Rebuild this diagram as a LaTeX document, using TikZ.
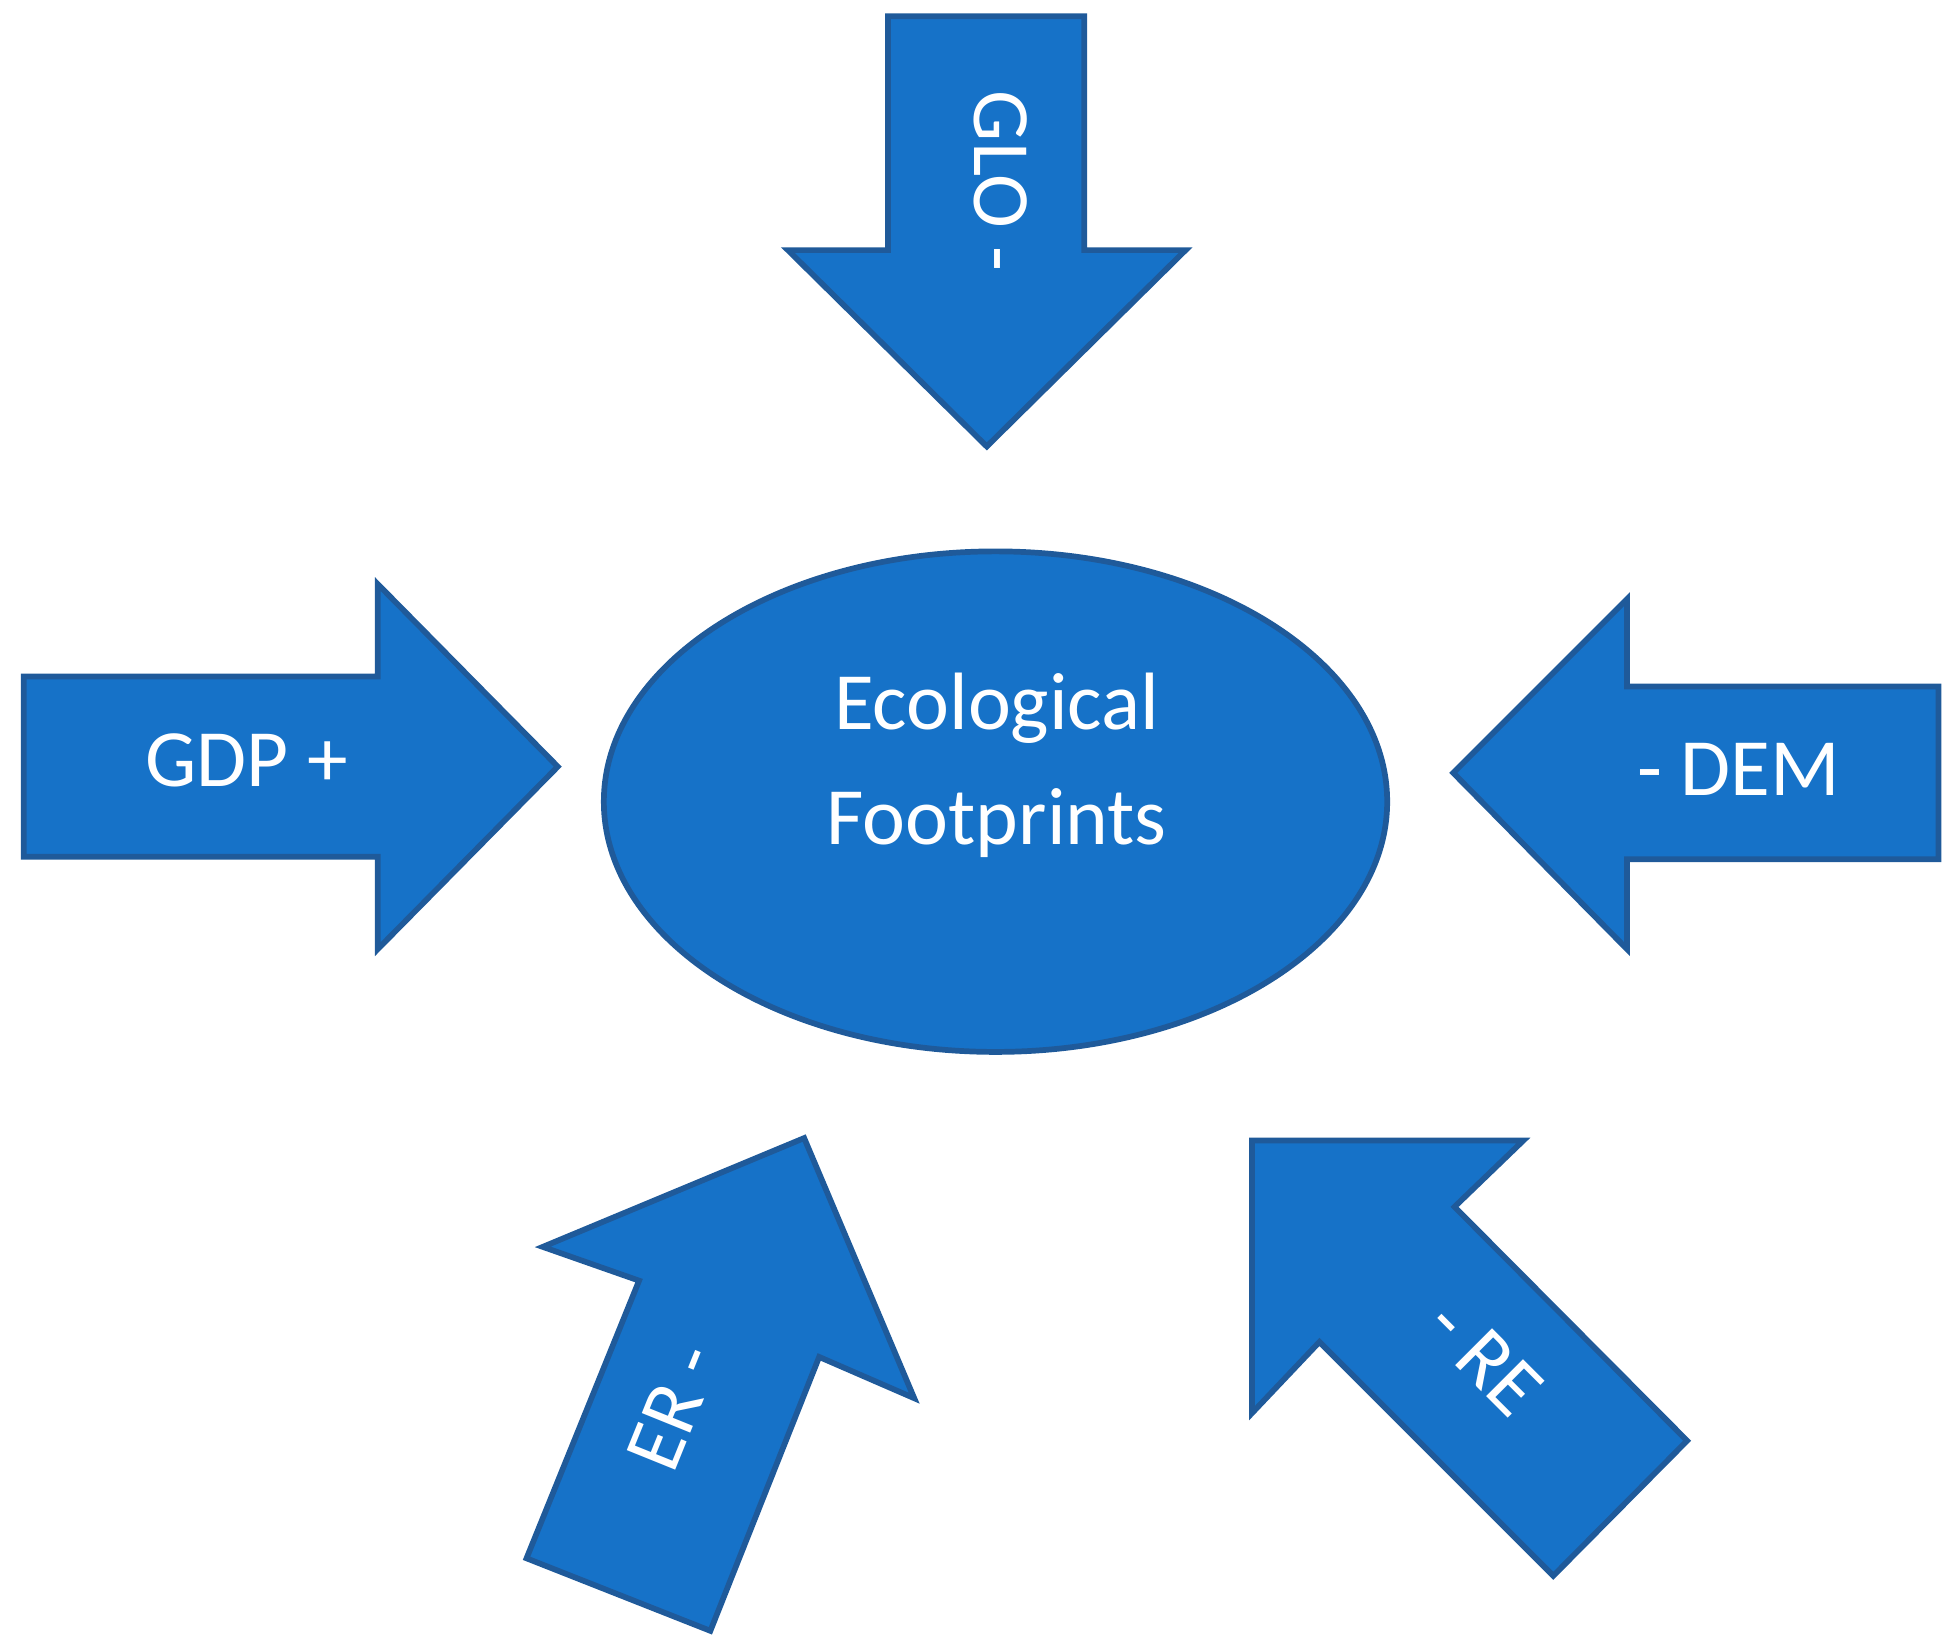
\documentclass[tikz,border=0pt]{standalone}
\usepackage{fontspec}
\setmainfont{Carlito}
\usetikzlibrary{shapes.geometric}
\definecolor{fillb}{HTML}{1672C8}
\definecolor{lineb}{HTML}{1F5A9A}
\begin{document}
\begin{tikzpicture}[x=0.01cm,y=-0.01cm,
  shp/.style={fill=fillb,draw=lineb,line width=1.3pt,line join=miter},
  lbl/.style={text=white,font=\fontsize{18.5}{22}\selectfont}]
\useasboundingbox (0,0) rectangle (1560,1310);
% GLO
\draw[shp] (710,13) -- (867,13) -- (867,200) -- (948,200) -- (789,357) -- (630,200) -- (710,200) -- cycle;
\node[lbl,rotate=-90] (glo) at (800,145) {GLO -};
% GDP
\draw[shp] (19,541) -- (302,541) -- (302,467) -- (446,613) -- (302,759) -- (302,685) -- (19,685) -- cycle;
\node[lbl] (gdp) at (197,608) {GDP +};
% DEM
\draw[shp] (1550,549) -- (1301,549) -- (1301,479) -- (1162,618) -- (1301,759) -- (1301,687) -- (1550,687) -- cycle;
\node[lbl] (dem) at (1390,615) {- DEM};
% Ellipse
\node[shp,ellipse,minimum width=6.26cm,minimum height=4.0cm,inner sep=0pt] (eco) at (796,641) {};
\node[lbl,align=center,font=\fontsize{18.5}{26}\selectfont] (ecot) at (797,612) {Ecological\\Footprints};
% ER
\draw[shp] (643,910) -- (731,1118) -- (655,1085) -- (568,1304) -- (421,1246) -- (511,1024) -- (434,997) -- cycle;
\node[lbl,rotate=68] (er) at (538,1125) {ER -};
% RE
\draw[shp] (1001,912) -- (1218,912) -- (1163,965) -- (1349,1152) -- (1242,1260) -- (1055,1073) -- (1001,1130) -- cycle;
\node[lbl,rotate=-45] (re) at (1187,1085) {- RE};
\end{tikzpicture}
\end{document}
